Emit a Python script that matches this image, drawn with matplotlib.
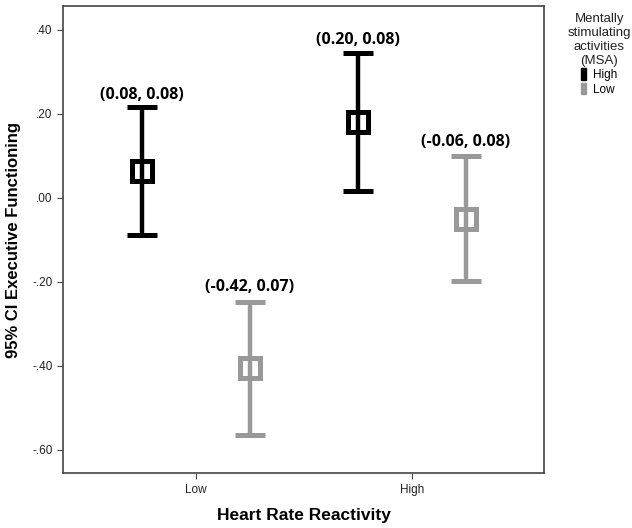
import matplotlib.pyplot as plt
from matplotlib.patches import Rectangle
import numpy as np

plt.rcParams['font.family'] = ['Liberation Sans', 'DejaVu Sans']

hrr_groups = ["Low", "High"]
msa_groups = ["High", "Low"]
colors = {"High": "#000000", "Low": "#999999"}

# means and 95% CI bounds
means = {"High": [0.064, 0.181], "Low": [-0.405, -0.050]}
upper = {"High": [0.217, 0.345], "Low": [-0.248, 0.100]}
lower = {"High": [-0.088, 0.017], "Low": [-0.564, -0.198]}
labels = {"High": ["(0.08, 0.08)", "(0.20, 0.08)"],
          "Low": ["(-0.42, 0.07)", "(-0.06, 0.08)"]}
label_gap = {"High": [3, 4], "Low": [5, 4]}  # points above top cap

fig = plt.figure(figsize=(6.32, 5.28), dpi=100)
ax = fig.add_axes([0.0997, 0.104, 0.7611, 0.8846])

x = np.arange(len(hrr_groups))
offset = {"High": -0.25, "Low": 0.25}

for g in msa_groups:
    m = np.array(means[g])
    lo = m - np.array(lower[g])
    hi = np.array(upper[g]) - m
    xs = x + offset[g]
    ax.errorbar(xs, m, yerr=[lo, hi], fmt='s', color=colors[g],
                ecolor=colors[g], elinewidth=3.2, capsize=11, capthick=3.2,
                markersize=15, mfc='none', mec=colors[g], mew=3.6,
                label=g, zorder=3)
    for xi, u, t, gap in zip(xs, upper[g], labels[g], label_gap[g]):
        ax.annotate(t, (xi, u), xytext=(0, gap), textcoords='offset points',
                    ha='center', va='bottom', fontsize=11.5,
                    fontweight='bold', family=['Open Sans', 'DejaVu Sans'])

ax.set_xlim(-0.616, 1.611)
ax.set_ylim(-0.655, 0.457)
ax.set_xticks(x)
ax.set_xticklabels(hrr_groups)
yt = [0.4, 0.2, 0.0, -0.2, -0.4, -0.6]
ax.set_yticks(yt)
ax.set_yticklabels([f"{v:.2f}".replace("0.", ".") for v in yt])
ax.tick_params(labelsize=8.5, colors='#444444', length=4, labelcolor='#222222')
for s in ax.spines.values():
    s.set_color('#444444')
    s.set_linewidth(1.2)

ax.set_xlabel("Heart Rate Reactivity", fontsize=12.5, fontweight='bold',
              labelpad=9)
ax.set_ylabel("95% CI Executive Functioning", fontsize=12, fontweight='bold',
              labelpad=8)

# legend
handles = [Rectangle((0, 0), 1, 1, color=colors[g]) for g in msa_groups]
leg = fig.legend(handles, msa_groups, title="Mentally\nstimulating\nactivities\n(MSA)",
                 loc='upper center', bbox_to_anchor=(0.948, 0.995), frameon=False,
                 fontsize=8.5, title_fontsize=9.5, handlelength=0.45,
                 handleheight=1.1, handletextpad=0.6, labelspacing=0.15)
leg.get_title().set_multialignment('center')
leg.get_title().set_color('#222222')

fig.savefig("out.png", dpi=100)
